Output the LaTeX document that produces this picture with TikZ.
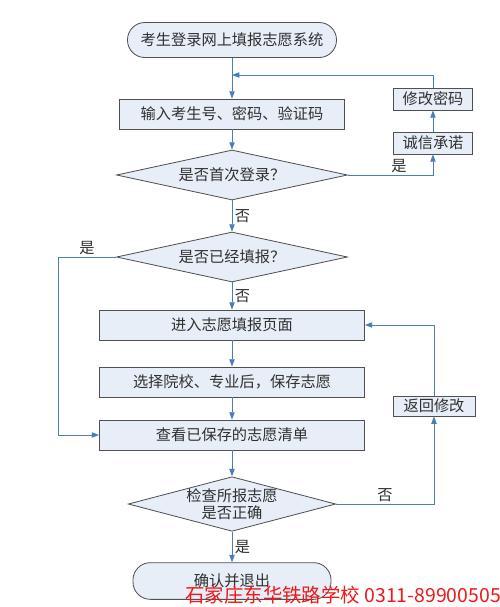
\documentclass[tikz,border=0pt]{standalone}
\usepackage{fontspec}
\setmainfont{Noto Sans CJK SC}
\usepackage{tikz}
\usepackage{xcolor}
\usetikzlibrary{arrows.meta,positioning,shapes.geometric}
\definecolor{cFill}{HTML}{E8EEF7}
\definecolor{cEdge}{HTML}{505050}
\definecolor{cLine}{HTML}{4A7EBB}
\definecolor{cInk}{HTML}{303030}
\definecolor{cMark}{HTML}{F01818}
\tikzset{
  >={Triangle[length=2.2mm,width=1.6mm]},
  box/.style   ={draw=cEdge,fill=cFill,text=cInk,line width=0.7pt,
                 align=center,inner sep=0pt,font=\fontsize{13}{15}\selectfont},
  tbox/.style  ={box,rounded corners=5.2mm,minimum height=10.5mm},
  pbox/.style  ={box,minimum width=79.5mm,minimum height=9mm},
  sbox/.style  ={box,minimum width=23.7mm,minimum height=6.6mm},
  dbox/.style  ={box,diamond,minimum width=69.3mm,minimum height=15mm},
  ar/.style    ={->,cLine,line width=0.7pt},
  lbl/.style   ={font=\fontsize{13}{15}\selectfont,text=cInk,inner sep=2pt},
}

\begin{document}
\begin{tikzpicture}[x=0.3mm,y=-0.3mm]
\useasboundingbox[fill=white] (0,0) rectangle (500,607);
% main column
\node[tbox,minimum width=62.7mm] (start) at (232,40) {考生登录网上填报志愿系统};
\node[pbox,minimum width=67.5mm] (input) at (232,114) {输入考生号、密码、验证码};
\node[dbox,shape aspect=4.6] (q1) at (232,175) {是否首次登录？};
\node[dbox,shape aspect=4.6] (q2) at (232,257) {是否已经填报？};
\node[pbox] (enter)  at (232,325) {进入志愿填报页面};
\node[pbox] (choose) at (232,382) {选择院校、专业后，保存志愿};
\node[pbox] (view)   at (232,435) {查看已保存的志愿清单};
\node[dbox,shape aspect=3.8,minimum width=62.1mm,minimum height=16.2mm,
      font=\fontsize{13}{14}\selectfont] (q3) at (232,504) {检查所报志愿\\是否正确};
\node[tbox,minimum width=59.4mm,minimum height=11mm] (done) at (232,581) {确认并退出};
% side boxes
\node[sbox] (pwd)     at (433,99)  {修改密码};
\node[sbox] (promise) at (433,143) {诚信承诺};
\node[sbox,minimum width=24.6mm,minimum height=6mm] (back) at (434,406) {返回修改};
\coordinate (mrg) at (232,75);
\coordinate (lft) at (58,257);

\draw[cLine,line width=0.7pt] (start) -- (mrg);
\draw[ar] (mrg) -- (input);
\draw[ar] (input) -- (q1);
\draw[ar] (q1.east) -| node[lbl,pos=0.3,above]{是} (promise.south);
\draw[ar] (promise) -- (pwd);
\draw[ar] (pwd.north) |- (mrg);
\draw[ar] (q1) -- node[lbl,right]{否} (q2);
\draw[ar] (q2) -- node[lbl,right]{否} (enter);
\draw[ar] (q2.west) -- node[lbl,above]{是} (lft) |- (view.west);
\draw[ar] (enter) -- (choose);
\draw[ar] (choose) -- (view);
\draw[ar] (view) -- (q3);
\draw[ar] (q3.east) -| node[lbl,pos=0.25,above]{否} (back.south);
\draw[ar] (back.north) |- (enter.east);
\draw[ar] (q3) -- node[lbl,right]{是} (done);

\node[anchor=west,text=cMark,inner sep=0pt,font=\fontsize{16.6}{18}\selectfont]
  (mark) at (185,595) {石家庄东华铁路学校 0311-89900505};
\end{tikzpicture}
\end{document}
